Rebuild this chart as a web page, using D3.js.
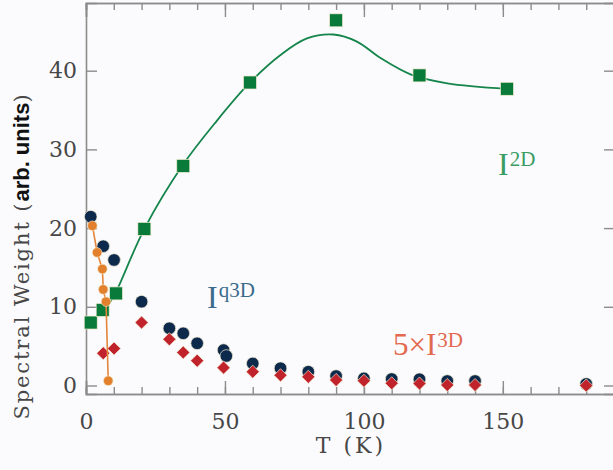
<!DOCTYPE html>
<html><head><meta charset="utf-8">
<script src="https://cdn.jsdelivr.net/npm/d3@7"></script>
<style>
html,body{margin:0;padding:0;background:#fbfbfd;}
svg{display:block;}
</style></head>
<body>
<script>
// ---- data ----
const tempI2D = [1.7, 6, 10.8, 21, 35, 59, 90, 120, 151.5];
const valI2D  = [8.0, 9.6, 11.7, 19.9, 27.9, 38.5, 46.4, 39.4, 37.7];

const tempFit = [8.3, 10.8, 21, 35, 47, 59, 70, 79.5, 89, 97.5, 106, 117, 130, 151.5];
const valFit  = [10.4, 11.9, 19.9, 28.1, 33.6, 38.5, 42.0, 44.1, 44.6, 43.7, 41.6, 39.5, 38.4, 37.7];

const tempIq3D = [1.7, 6.2, 10.1, 20, 30, 35, 40, 49.5, 50.5, 60, 70, 80, 90, 100, 110, 120, 130, 140, 180];
const valIq3D  = [21.45, 17.7, 15.95, 10.65, 7.27, 6.63, 5.36, 4.5, 3.75, 2.8, 2.2, 1.75, 1.2, 0.9, 0.82, 0.8, 0.57, 0.57, 0.2];

const tempI3D = [6.2, 10.1, 20, 30, 35, 40, 49.5, 60, 70, 80, 90, 100, 110, 120, 130, 140, 180];
const valI3D5 = [4.1, 4.7, 8.0, 5.87, 4.2, 3.15, 2.27, 1.75, 1.3, 1.1, 0.7, 0.6, 0.28, 0.25, 0.06, 0.06, 0.0];

const tempLow = [2.3, 4, 5.9, 6.2, 7.2, 8];
const valLow  = [20.3, 16.9, 14.8, 12.2, 10.65, 0.6];

const xMajorTicks = [0, 50, 100, 150];
const xMinorTicks = d3.range(0, 191, 10);
const yTicks = [0, 10, 20, 30, 40];

// ---- layout ----
const W = 613, H = 470;
const svg = d3.select("body").append("svg").attr("width", W).attr("height", H);
svg.append("rect").attr("width", W).attr("height", H).attr("fill", "#fbfbfd");

const x = d3.scaleLinear().domain([0, 190]).range([86, 614]);
const y = d3.scaleLinear().domain([-1.08, 48.6]).range([394, 3]);

const axisColor = "#8c8c8c";
const textFont = "'DejaVu Serif', 'Liberation Serif', serif";
const serifFont = "'Liberation Serif', 'Times New Roman', serif";
const textColor = "#474747";

function styleAxis(g) {
  g.select(".domain").attr("stroke", axisColor).attr("stroke-width", 1.6);
  g.selectAll(".tick line").attr("stroke", axisColor).attr("stroke-width", 1.4);
  g.selectAll(".tick text").attr("fill", textColor).attr("font-family", textFont)
    .attr("font-size", 22).attr("font-weight", 300);
}

// bottom axis
svg.append("g").attr("transform", `translate(0,394)`)
  .call(d3.axisBottom(x).tickValues(xMinorTicks).tickSize(-7).tickFormat(""))
  .call(styleAxis);
svg.append("g").attr("transform", `translate(0,394)`)
  .call(d3.axisBottom(x).tickValues(xMajorTicks).tickSize(-13).tickPadding(19).tickFormat(d3.format("d")))
  .call(styleAxis);
// top axis
svg.append("g").attr("transform", `translate(0,3)`)
  .call(d3.axisTop(x).tickValues(xMinorTicks).tickSize(-7).tickFormat(""))
  .call(styleAxis);
svg.append("g").attr("transform", `translate(0,3)`)
  .call(d3.axisTop(x).tickValues(xMajorTicks).tickSize(-14).tickFormat(""))
  .call(styleAxis);
// left axis
svg.append("g").attr("transform", `translate(86,0)`)
  .call(d3.axisLeft(y).tickValues(yTicks).tickSize(-11).tickPadding(9).tickFormat(d3.format("d")))
  .call(styleAxis);
// right axis
svg.append("g").attr("transform", `translate(614,0)`)
  .call(d3.axisRight(y).tickValues(yTicks).tickSize(-10).tickFormat(""))
  .call(styleAxis);

// ---- axis titles ----
svg.append("text").attr("x", 351).attr("y", 453).attr("text-anchor", "middle")
  .attr("font-family", textFont).attr("font-size", 22).attr("fill", textColor)
  .attr("letter-spacing", 3)
  .text("T (K)");

const yl = svg.append("text").attr("transform", "translate(29,257) rotate(-90)")
  .attr("text-anchor", "middle").attr("fill", textColor);
yl.append("tspan").attr("font-family", textFont).attr("font-size", 21)
  .attr("letter-spacing", 1.9).text("Spectral Weight (");
yl.append("tspan").attr("font-family", "'Liberation Sans', Arial, sans-serif").attr("font-weight", "bold")
  .attr("font-size", 22).attr("fill", "#111").text("arb. units");
yl.append("tspan").attr("font-family", textFont).attr("font-size", 21).text(")");

// ---- marks ----
const edge = "#f4ecd0";

// blue circles (Iq3D)
svg.append("g").selectAll("circle").data(d3.zip(tempIq3D, valIq3D)).join("circle")
  .attr("cx", d => x(d[0])).attr("cy", d => y(d[1])).attr("r", 6.3)
  .attr("fill", "#0d2a4c").attr("stroke", edge).attr("stroke-width", 0.7);

// red diamonds (5 x I3D)
svg.append("g").selectAll("path").data(d3.zip(tempI3D, valI3D5)).join("path")
  .attr("d", d3.symbol().type(d3.symbolDiamond2).size(110)())
  .attr("transform", d => `translate(${x(d[0])},${y(d[1])})`)
  .attr("fill", "#c0232b").attr("stroke", edge).attr("stroke-width", 0.7);

// green fit line
svg.append("path").datum(d3.zip(tempFit, valFit))
  .attr("d", d3.line().x(d => x(d[0])).y(d => y(d[1])).curve(d3.curveCatmullRom.alpha(0.5)))
  .attr("fill", "none").attr("stroke", "#15854c").attr("stroke-width", 1.8);

// green squares (I2D)
svg.append("g").selectAll("rect").data(d3.zip(tempI2D, valI2D)).join("rect")
  .attr("x", d => x(d[0]) - 6.5).attr("y", d => y(d[1]) - 6.5)
  .attr("width", 13).attr("height", 13)
  .attr("fill", "#097a3a").attr("stroke", edge).attr("stroke-width", 0.7);

// orange low-T series
svg.append("path").datum(d3.zip(tempLow, valLow))
  .attr("d", d3.line().x(d => x(d[0])).y(d => y(d[1])))
  .attr("fill", "none").attr("stroke", "#e3853a").attr("stroke-width", 1.6);
svg.append("g").selectAll("circle").data(d3.zip(tempLow, valLow)).join("circle")
  .attr("cx", d => x(d[0])).attr("cy", d => y(d[1])).attr("r", 4.8)
  .attr("fill", "#e3802e").attr("stroke", edge).attr("stroke-width", 0.6);

// ---- series labels ----
function label(xp, yp, main, sup, color, mainSize, supSize, supRise) {
  const t = svg.append("text").attr("x", xp).attr("y", yp)
    .attr("font-family", serifFont).attr("fill", color);
  t.append("tspan").attr("font-size", mainSize).text(main);
  t.append("tspan").attr("font-size", supSize).attr("dy", -supRise).attr("dx", 1).text(sup);
}
label(498, 175, "I", "2D", "#3a9b63", 32, 21, 9);
label(207, 308, "I", "q3D", "#3b6b8c", 32, 21, 11);
label(393, 355, "5×I", "3D", "#e2694f", 31, 21, 8);
</script>
</body></html>
